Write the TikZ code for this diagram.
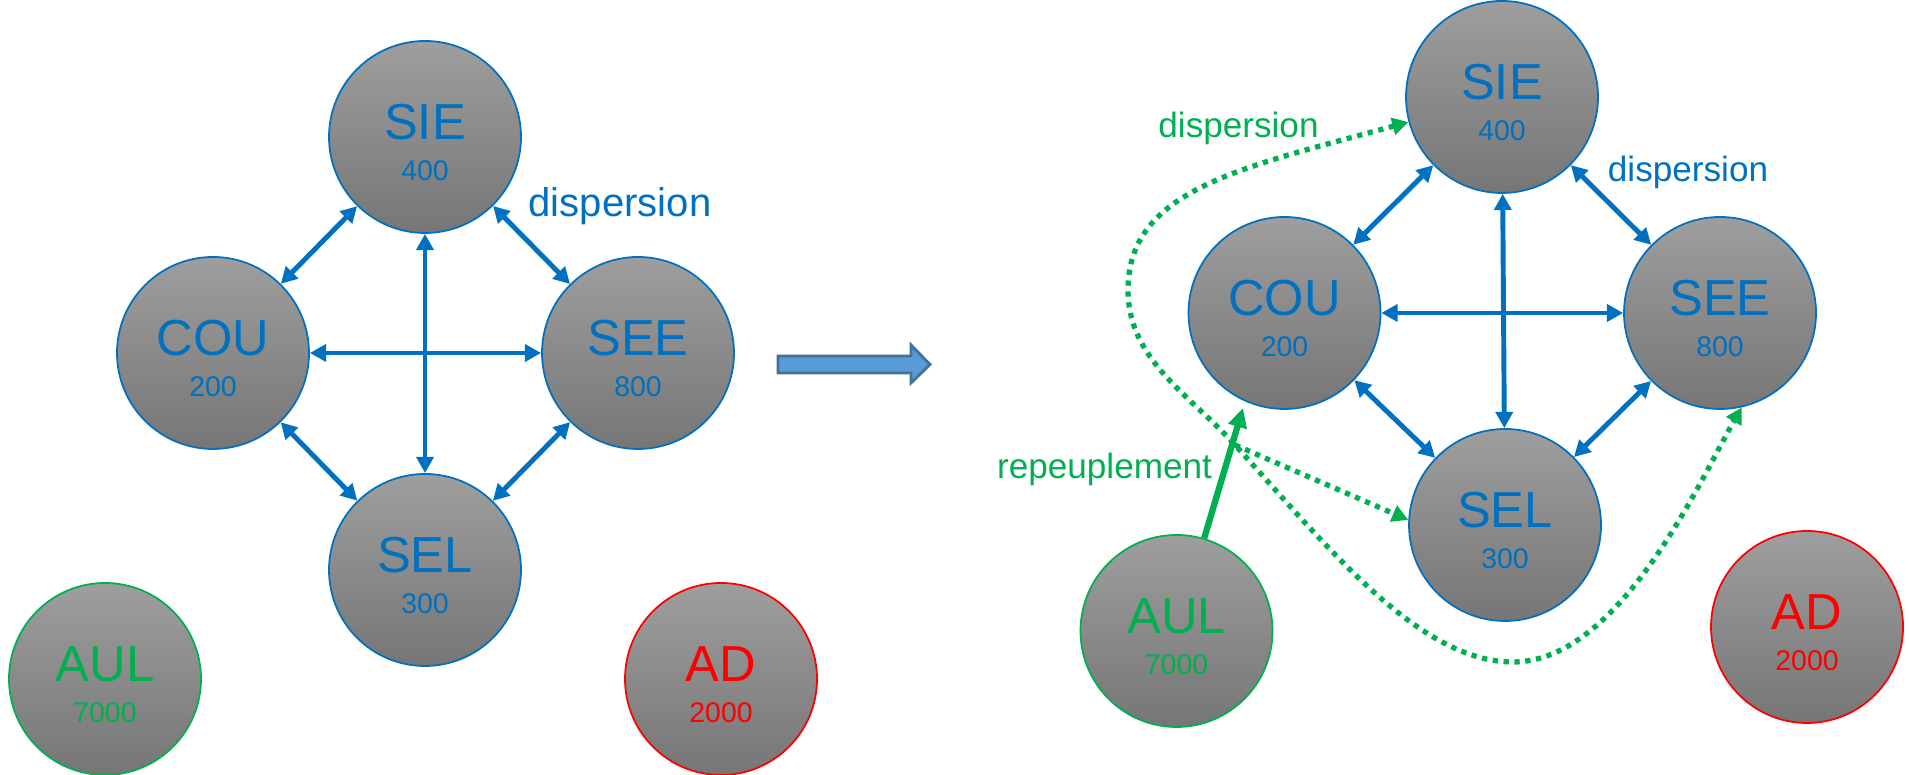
\documentclass[tikz,border=0pt]{standalone}
\usepackage{fontspec}
\setmainfont{Liberation Sans}
\usetikzlibrary{arrows.meta}
\definecolor{blu}{HTML}{0070C0}
\definecolor{grn}{HTML}{00B050}
\definecolor{rd}{HTML}{FF0000}
\definecolor{gtop}{RGB}{158,158,158}
\definecolor{gbot}{RGB}{118,118,118}
\definecolor{barrow}{HTML}{5B9BD5}
\definecolor{bedge}{HTML}{41719C}
\begin{document}
\begin{tikzpicture}[
  pop/.style={circle,draw=#1,line width=0.5pt,minimum size=1.92cm,inner sep=0pt,top color=gtop,bottom color=gbot},
  popname/.style={anchor=base,inner sep=0pt,font=\fontsize{14.4}{17}\selectfont},
  popnum/.style={anchor=base,inner sep=0pt,font=\fontsize{8.1}{10}\selectfont},
  disp/.style={blu,line width=1.4pt,{Triangle[length=4.6pt,width=4.8pt]}-{Triangle[length=4.6pt,width=4.8pt]}},
  gdot/.style={grn,line width=1.5pt,dash pattern=on 1.5pt off 1.6pt,-{Triangle[length=4.6pt,width=4.8pt]}},
  lbl/.style={anchor=base,inner sep=0pt,font=\fontsize{10}{12}\selectfont}]
\useasboundingbox (0,0) rectangle (19.09,7.75);
% populations: left (before), right (after)
\foreach \p/\n/\x/\y/\v/\c in {l/SIE/4.25/6.38/400/blu,l/COU/2.13/4.22/200/blu,l/SEE/6.38/4.22/800/blu,l/SEL/4.25/2.05/300/blu,l/AUL/1.05/0.96/7000/grn,l/AD/7.21/0.96/2000/rd,
  r/SIE/15.02/6.78/400/blu,r/COU/12.845/4.62/200/blu,r/SEE/17.20/4.62/800/blu,r/SEL/15.05/2.50/300/blu,r/AUL/11.765/1.44/7000/grn,r/AD/18.07/1.48/2000/rd}{
  \node[pop=\c] (\p\n) at (\x,\y) {};
  \node[popname,text=\c] (\p\n-a) at ([yshift=-0.03cm]\p\n.center) {\n};
  \node[popnum,text=\c] (\p\n-b) at ([yshift=-0.44cm]\p\n.center) {\v};
}
% dispersion between sites
\foreach \p in {l,r}{
  \draw[disp] (\p SIE) -- (\p COU);
  \draw[disp] (\p SIE) -- (\p SEE);
  \draw[disp] (\p COU) -- (\p SEE);
  \draw[disp] (\p SIE) -- (\p SEL);
  \draw[disp] (\p COU) -- (\p SEL);
  \draw[disp] (\p SEE) -- (\p SEL);
}
\node[lbl,text=blu,font=\fontsize{11.4}{13}\selectfont] (ldisp) at (6.20,5.58) {dispersion};
\node[lbl,text=blu] (rdisp) at (16.88,5.93) {dispersion};
% block arrow
\draw[bedge,fill=barrow,line width=0.8pt] (7.78,4.02)--(9.11,4.02)--(9.11,3.92)--(9.30,4.105)--(9.11,4.30)--(9.11,4.19)--(7.78,4.19)--cycle;
% repeuplement
\coordinate (split) at (12.35,3.30);
\coordinate (rtip) at (12.43,3.67);
\draw[gdot,{Triangle[length=4.6pt,width=4.8pt]}-{Triangle[length=4.6pt,width=4.8pt]}] (rSIE.195) .. controls (12.40,6.07) and (11.28,5.85) .. (11.28,4.85) .. controls (11.28,4.15) and (11.90,3.80) .. (split) .. controls (13.30,2.25) and (14.20,1.13) .. (15.13,1.13) .. controls (16.20,1.13) and (17.00,2.95) .. (rSEE.283);
\draw[gdot] (split) -- (rSEL.177);
\draw[grn,line width=1.8pt,-{Triangle[length=5.5pt,width=5.2pt]}] (rAUL) -- (rtip);
\node[lbl,text=grn] (gdisp) at (12.385,6.37) {dispersion};
\node[lbl,text=grn] (repeup) at (11.045,2.96) {repeuplement};
\end{tikzpicture}
\end{document}
